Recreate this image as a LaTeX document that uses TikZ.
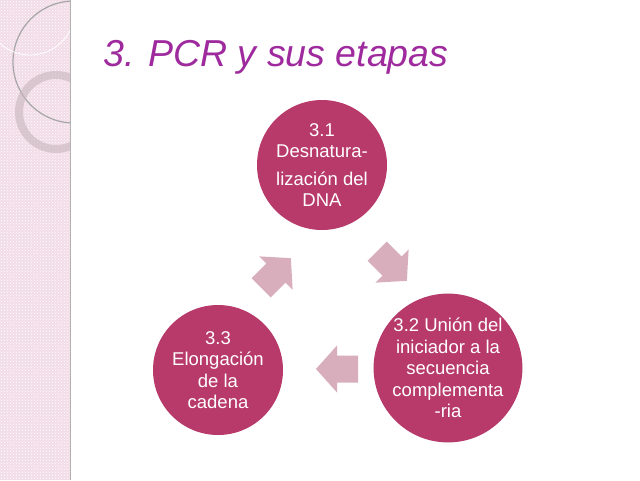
\documentclass[tikz,border=0pt]{standalone}
\usepackage{fontspec}
\setmainfont{Liberation Sans}
\usetikzlibrary{patterns}
\definecolor{rasp}{HTML}{B83A6A}
\definecolor{parrow}{HTML}{D8AEBC}
\definecolor{band}{HTML}{F2DCE7}
\definecolor{ttl}{HTML}{9E2A9E}
\tikzset{
 stage/.style={circle,fill=rasp,minimum size=130pt,inner sep=0pt,text=white,align=center,font=\fontsize{18.5}{21.5}\selectfont},
 pics/flow/.style={code={\fill[parrow] (-21,-13.5) -- (0,-13.5) -- (0,-23.5) -- (21,0) -- (0,23.5) -- (0,13.5) -- (-21,13.5) -- cycle;}}
}
\begin{document}
\begin{tikzpicture}[x=1pt,y=-1pt]
\useasboundingbox (0,0) rectangle (640,480);
\fill[white] (0,0) rectangle (640,480);
\fill[band] (0,0) rectangle (70,480);
\fill[pattern=crosshatch dots,pattern color=white] (0,0) rectangle (70,480);
\begin{scope}
\clip (0,0) rectangle (70,480);
\draw[gray!70,line width=1.2pt] (74,62) circle (61);
\draw[white,line width=0.8pt] (30,10) circle (45);
\draw[rasp!30!gray!50,line width=8pt,opacity=0.6] (56,112) circle (37);
\end{scope}
\draw[gray!60,line width=1pt] (70,0) -- (70,480);
\node[anchor=base west,font=\fontsize{37.5}{40}\selectfont\itshape,text=ttl,inner sep=0pt] (title) at (103,66) {3. PCR y sus etapas};
\node[stage] (s1) at (322,165) {3.1\\Desnatura-\\[6pt]lización del\\DNA};
\node[stage] (s2) at (448,368) {3.2 Unión del\\iniciador a la\\secuencia\\complementa\\-ria};
\node[stage] (s3) at (218,370) {3.3\\Elongación\\de la\\cadena};
\pic[rotate=-45] (a1) at (392,266) {flow};
\pic[rotate=180] (a2) at (337,369) {flow};
\pic[rotate=45] (a3) at (276,273) {flow};
\end{tikzpicture}
\end{document}
